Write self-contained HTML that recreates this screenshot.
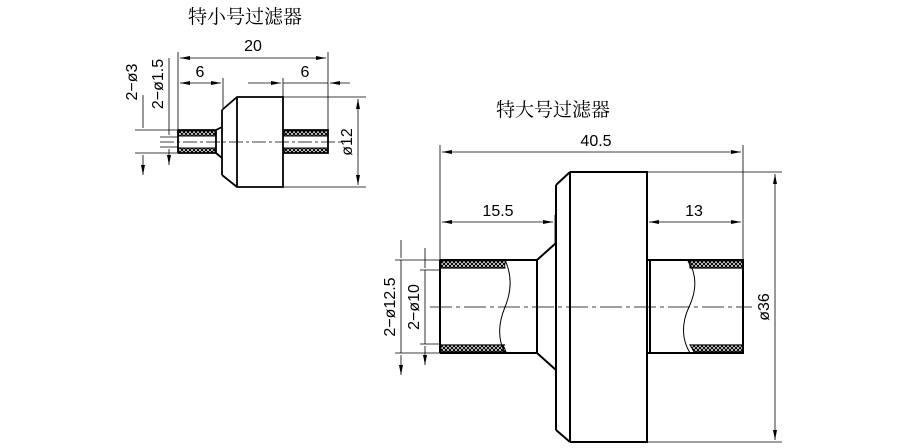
<!DOCTYPE html>
<html><head><meta charset="utf-8"><style>
html,body{margin:0;padding:0;background:#fff;}
svg{display:block;}
text{font-family:"Liberation Sans",sans-serif;fill:#000;}
.cn{font-family:"Noto Serif CJK SC","Noto Sans CJK SC",serif;}
</style></head><body>
<svg width="900" height="448" viewBox="0 0 900 448" xmlns="http://www.w3.org/2000/svg">
<defs>
<pattern id="h" width="4" height="4" patternUnits="userSpaceOnUse">
<rect width="4" height="4" fill="#fff"/>
<path d="M0 0L4 4M4 0L0 4" stroke="#000" stroke-width="1.1"/>
</pattern>
<marker id="a" viewBox="0 0 10 6" refX="10" refY="3" markerWidth="10" markerHeight="6" orient="auto-start-reverse" markerUnits="userSpaceOnUse">
<path d="M0 1L10 3L0 5z" fill="#000"/>
</marker>
</defs>

<text class="cn" x="245" y="23" font-size="19" text-anchor="middle">特小号过滤器</text>
<text class="cn" x="553" y="116" font-size="19" text-anchor="middle">特大号过滤器</text>

<!-- small filter -->
<g stroke="#000" fill="none">
<rect x="178" y="131" width="37" height="5" fill="url(#h)" stroke-width="1"/>
<rect x="178" y="148" width="37" height="5" fill="url(#h)" stroke-width="1"/>
<rect x="284" y="131" width="44" height="5" fill="url(#h)" stroke-width="1"/>
<rect x="284" y="148" width="44" height="5" fill="url(#h)" stroke-width="1"/>
<path d="M178 130V153M178 130H216M178 153H216M216 130L222 127M216 153L222 158M216 130V153" stroke-width="1.8"/>
<path d="M222 110V175M222 110L237 97H283V187H237L222 175M237 97V187" stroke-width="1.8"/>
<path d="M283 130H328V153H283M328 130V153" stroke-width="1.8"/>
<path d="M160 142H345" stroke-width="0.8" stroke-dasharray="14,3,3,3"/>
<g stroke-width="0.8">
<path d="M178 52V130M328 52V130M223 78V108M283 78V97"/>
<path d="M180 58H326" marker-start="url(#a)" marker-end="url(#a)"/>
<path d="M180 83H221" marker-start="url(#a)" marker-end="url(#a)"/>
<path d="M248 83H281" marker-end="url(#a)"/>
<path d="M330 83H350" marker-start="url(#a)"/>
<path d="M283 83H328"/>
<path d="M283 97H366M283 187H366"/>
<path d="M358 99V185" marker-start="url(#a)" marker-end="url(#a)"/>
<path d="M135 130H178M135 153H178M160 137H178M160 147H178"/>
<path d="M143 95V128M143 155V175" marker-end="url(#a)"/>
<path d="M169 58V135M169 149V165" marker-end="url(#a)"/>
</g>
</g>
<text x="253" y="51" font-size="16" text-anchor="middle">20</text>
<text x="200" y="77" font-size="16" text-anchor="middle">6</text>
<text x="305" y="77" font-size="16" text-anchor="middle">6</text>
<text transform="translate(352,142) rotate(-90)" font-size="16" text-anchor="middle">ø12</text>
<text transform="translate(137,82) rotate(-90)" font-size="16" text-anchor="middle">2−ø3</text>
<text transform="translate(163,84) rotate(-90)" font-size="16" text-anchor="middle">2−ø1.5</text>

<!-- large filter -->
<g stroke="#000" fill="none">
<path d="M441 261H506Q504 264 505 268H441z" fill="url(#h)" stroke-width="1"/>
<path d="M441 345H503Q505 349 506 352H441z" fill="url(#h)" stroke-width="1"/>
<path d="M688 261H743V268H690Q690 264 688 261z" fill="url(#h)" stroke-width="1"/>
<path d="M690 345H743V352H694Q692 348 690 345z" fill="url(#h)" stroke-width="1"/>
<path d="M440 260V353M440 260H537M440 353H537M537 260V353M537 260L556 243M537 353L556 370" stroke-width="2"/>
<path d="M440 268H505M440 345H505" stroke-width="1.2"/>
<path d="M505 260C512 275 512 290 505 307S498 340 505 353" stroke-width="1"/>
<path d="M556 185V430M556 185L570 172M556 430L570 442M570 172V442M570 172H647V442H570" stroke-width="2"/>
<path d="M647 260H743V353H647M650 260V353M743 260V353" stroke-width="2"/>
<path d="M690 268H743M690 345H743" stroke-width="1.2"/>
<path d="M688 260C697 275 697 290 689 307S682 340 690 353" stroke-width="1"/>
<path d="M430 307H752" stroke-width="0.8" stroke-dasharray="22,4,4,4"/>
<g stroke-width="0.8">
<path d="M440 145V260M743 145V260M555 215V243M647 215V172"/>
<path d="M442 152H741" marker-start="url(#a)" marker-end="url(#a)"/>
<path d="M442 222H553" marker-start="url(#a)" marker-end="url(#a)"/>
<path d="M649 222H741" marker-start="url(#a)" marker-end="url(#a)"/>
<path d="M647 172H782M647 442H782"/>
<path d="M775 174V440" marker-start="url(#a)" marker-end="url(#a)"/>
<path d="M395 260H440M395 353H440M420 270H440M420 344H440"/>
<path d="M401 240V258M401 355V375" marker-end="url(#a)"/>
<path d="M425 248V268M425 346V365" marker-end="url(#a)"/>
<path d="M401 260V353M425 270V344"/>
</g>
</g>
<text x="596" y="146" font-size="16" text-anchor="middle">40.5</text>
<text x="498" y="216" font-size="16" text-anchor="middle">15.5</text>
<text x="694" y="216" font-size="16" text-anchor="middle">13</text>
<text transform="translate(769,307) rotate(-90)" font-size="16" text-anchor="middle">ø36</text>
<text transform="translate(395,307) rotate(-90)" font-size="16" text-anchor="middle">2−ø12.5</text>
<text transform="translate(419,307) rotate(-90)" font-size="16" text-anchor="middle">2−ø10</text>
</svg>
</body></html>
